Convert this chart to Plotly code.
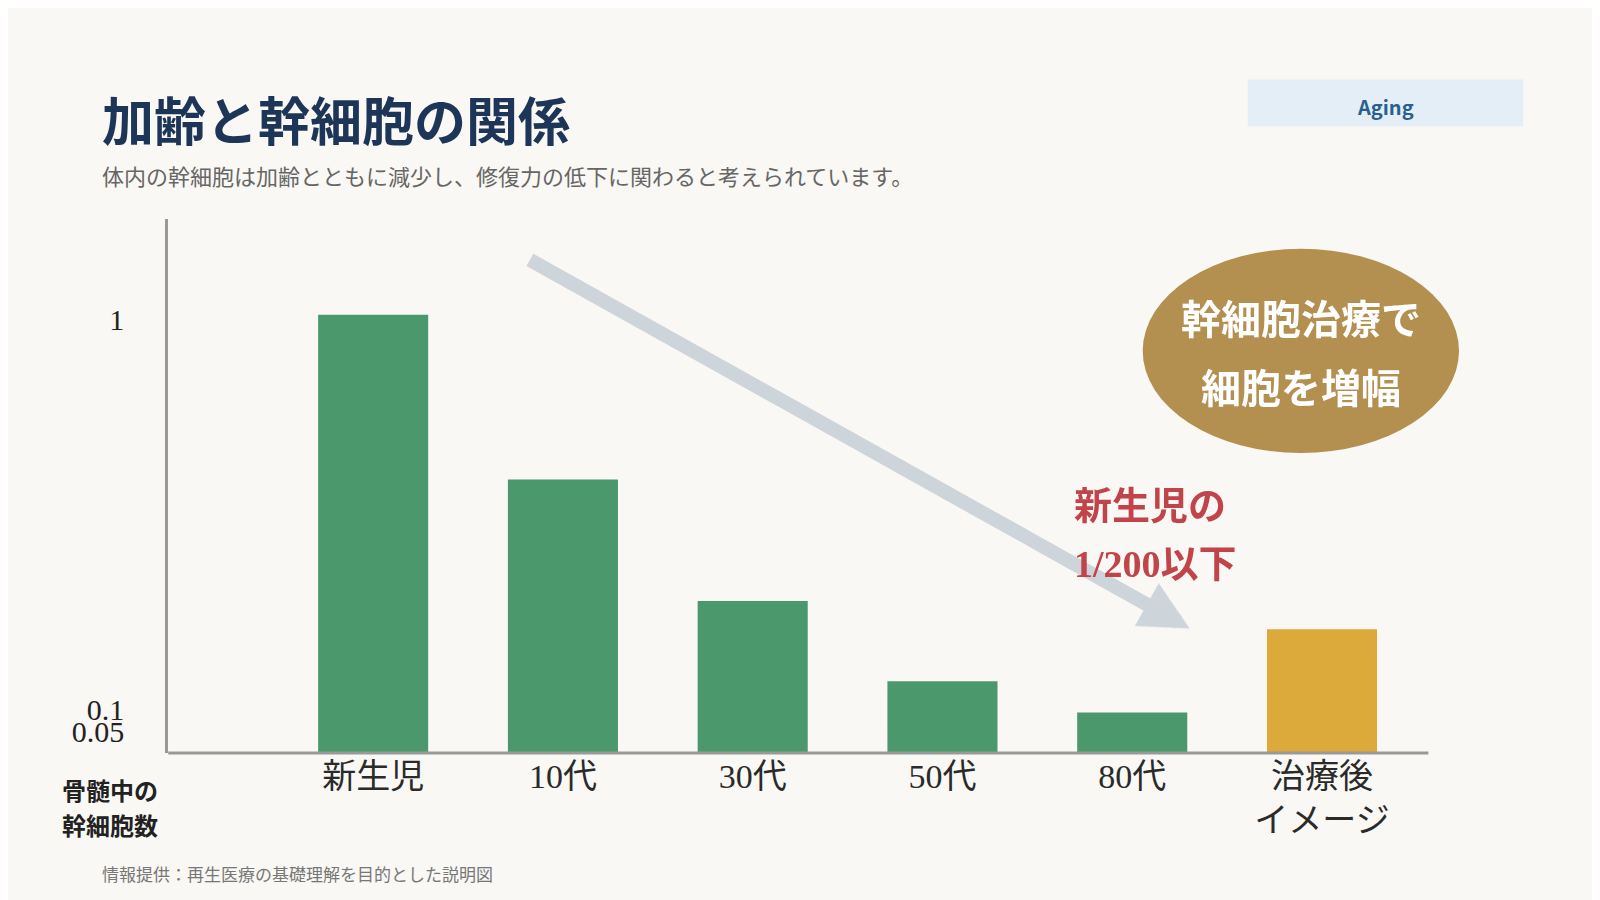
import plotly.graph_objects as go

categories = ["新生児", "10代", "30代", "50代", "80代", "治療後<br>イメージ"]
values = [1.01, 0.63, 0.35, 0.165, 0.093, 0.285]
colors = ["#4a986b"] * 5 + ["#dcaa3a"]
tick_vals = [0.05, 0.1, 1]
tick_text = ["0.05", "0.1", "1"]

W, H = 1568.0, 882.0
S = 1600 / W
def px(x): return x / W
def py(y): return 1 - y / H

fig = go.Figure(go.Bar(x=list(range(len(categories))), y=values, marker_color=colors,
                       width=0.58, marker_line_width=0))
fig.update_layout(
    width=1600, height=900, margin=dict(l=0, r=0, t=0, b=0),
    paper_bgcolor="#f9f8f4", plot_bgcolor="#f9f8f4", showlegend=False,
    font=dict(family="Noto Sans CJK JP", color="#222"),
    xaxis=dict(domain=[px(157), px(1390)], range=[-1.08, 5.55], tickvals=list(range(6)),
               ticktext=categories, showgrid=False, zeroline=False, showline=False,
               tickfont=dict(family="Liberation Serif, Noto Sans CJK JP", size=34, color="#2a2a2a"), ticklen=0),
    yaxis=dict(domain=[py(730), py(207)], range=[0, 1.23], tickvals=tick_vals, ticktext=tick_text,
               showgrid=False, zeroline=False, showline=True, linecolor="#999", linewidth=3,
               tickfont=dict(family="Liberation Serif", size=30, color="#222"), ticks="", ticklabelstandoff=35),
)
fig.add_shape(type="line", xref="paper", yref="paper", x0=px(157), x1=px(1392), y0=py(730), y1=py(730),
              line=dict(color="#999", width=3))
fig.add_shape(type="rect", xref="paper", yref="paper", x0=px(1215), x1=px(1485), y0=py(116), y1=py(70),
              fillcolor="#e3eef6", line_width=0, layer="below")
fig.add_shape(type="circle", xref="paper", yref="paper", x0=px(1112), x1=px(1422), y0=py(436), y1=py(236),
              fillcolor="#b38f50", line_width=0)
fig.add_annotation(xref="paper", yref="paper", x=px(1158), y=py(608), ax=(510 - 1158) * S, ay=(246 - 608) * S,
                   showarrow=True, arrowhead=2, arrowsize=0.7,
                   arrowwidth=14, arrowcolor="rgba(190,200,210,0.75)", text="")
ann = [
    (90, 113, "<b>加齢と幹細胞の関係</b>", 52, "#1d3557", "left"),
    (90, 164, "体内の幹細胞は加齢とともに減少し、修復力の低下に関わると考えられています。", 22, "#666", "left"),
    (1350, 97, "<b>Aging</b>", 20, "#2a5f8f", "center"),
    (1267, 306, "<b>幹細胞治療で</b>", 40, "white", "center"),
    (1267, 374, "<b>細胞を増幅</b>", 40, "white", "center"),
    (1043, 488, "<b>新生児の</b>", 38, "#c0444a", "left"),
    (1043, 545, "<b>1/200以下</b>", 38, "#c0444a", "left"),
    (100, 766, "<b>骨髄中の</b>", 24, "#222", "center"),
    (100, 800, "<b>幹細胞数</b>", 24, "#222", "center"),
    (90, 848, "情報提供：再生医療の基礎理解を目的とした説明図", 17, "#777", "left"),
]
for x, y, t, s, c, a in ann:
    fig.add_annotation(xref="paper", yref="paper", x=px(x), y=py(y), text=t, showarrow=False,
                       xanchor=a, yanchor="middle", font=dict(size=s, color=c,
                       family="Liberation Serif, Noto Sans CJK JP" if s >= 38 else "Noto Sans CJK JP"))
fig.write_html("out.html")
